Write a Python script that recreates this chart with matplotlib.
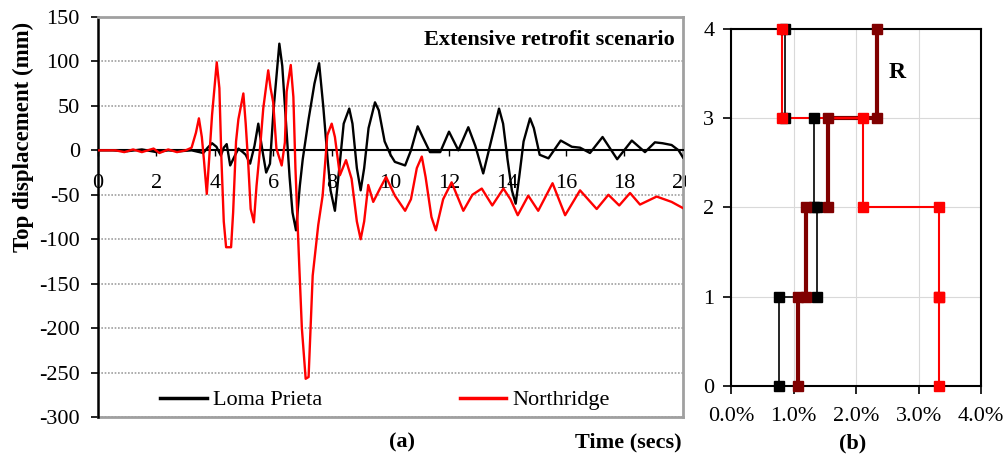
import numpy as np
import matplotlib
matplotlib.use("Agg")
import matplotlib.pyplot as plt
from matplotlib.transforms import Bbox
from matplotlib.ticker import FuncFormatter

plt.rcParams["font.family"] = ["Liberation Serif", "DejaVu Serif"]
plt.rcParams["axes.unicode_minus"] = False

# Top displacement histories (time in s, displacement in mm)
t_loma = [0.0, 0.5, 1.0, 1.5, 2.0, 2.4, 2.8, 3.2, 3.6, 3.75, 3.9, 4.05, 4.2, 4.3,
          4.4, 4.52, 4.65, 4.8, 4.95, 5.05, 5.2, 5.35, 5.48, 5.62, 5.75, 5.88,
          6.0, 6.2, 6.3, 6.45, 6.55, 6.65, 6.77, 6.9, 7.0, 7.2, 7.4, 7.56, 7.7,
          7.85, 7.95, 8.1, 8.25, 8.4, 8.59, 8.7, 8.85, 8.98, 9.1, 9.25, 9.47,
          9.6, 9.8, 10.0, 10.15, 10.5, 10.7, 10.93, 11.1, 11.35, 11.7, 12.0,
          12.32, 12.66, 12.9, 13.17, 13.4, 13.71, 13.85, 14.0, 14.15, 14.28,
          14.4, 14.55, 14.77, 14.9, 15.1, 15.4, 15.82, 16.2, 16.48, 16.82,
          17.25, 17.75, 18.25, 18.7, 19.04, 19.3, 19.61, 19.85, 20.0]
d_loma = [0, 0, -1, 1, -2, 0, -1, 0, -3, 3, 8, 4, -6, 3,
          7, -17, -8, 2, -2, -5, -15, 5, 30, 0, -25, -15,
          45, 120, 95, 20, -30, -70, -90, -40, -10, 35, 75, 98, 50,
          -10, -45, -68, -20, 30, 47, 30, -20, -45, -20, 25, 54,
          45, 10, -5, -13, -17, 0, 27, 15, -2, -2, 21,
          0, 26, 5, -26, 5, 47, 30, -10, -45, -60,
          -30, 10, 36, 25, -5, -9, 11, 4, 3, -3,
          15, -10, 11, -2, 9, 8, 6, 0, -8]

t_north = [0.0, 0.6, 0.9, 1.2, 1.5, 1.9, 2.1, 2.4, 2.7, 3.0, 3.2, 3.35, 3.45,
           3.55, 3.62, 3.72, 3.8, 3.9, 4.06, 4.15, 4.22, 4.3, 4.38, 4.55, 4.62,
           4.72, 4.8, 4.97, 5.05, 5.14, 5.22, 5.33, 5.42, 5.54, 5.65, 5.82, 5.9,
           5.99, 6.1, 6.28, 6.39, 6.45, 6.59, 6.68, 6.75, 6.88, 6.97, 7.1, 7.2,
           7.34, 7.53, 7.68, 7.84, 7.99, 8.1, 8.27, 8.48, 8.67, 8.85, 8.98, 9.1,
           9.24, 9.41, 9.64, 9.85, 10.15, 10.5, 10.7, 10.9, 11.07, 11.2, 11.4,
           11.55, 11.8, 12.09, 12.49, 12.8, 13.12, 13.48, 13.86, 14.1, 14.35,
           14.71, 15.05, 15.54, 15.97, 16.48, 17.05, 17.45, 17.82, 18.19, 18.53,
           19.1, 19.61, 20.0]
d_north = [0, 0, -2, 1, -2, 2, -3, 1, -2, 0, 3, 20, 36,
           15, -10, -49, -10, 40, 99, 70, -10, -80, -109, -109, -70,
           10, 35, 64, 30, -17, -66, -81, -40, 2, 47, 90, 70,
           54, 2, -17, 9, 66, 96, 60, -20, -129, -200, -257, -255,
           -141, -84, -51, 17, 30, 15, -28, -11, -32, -80, -100, -80,
           -39, -58, -43, -30, -51, -68, -55, -20, -7, -30, -75,
           -90, -55, -36, -68, -50, -43, -62, -43, -55, -73,
           -51, -68, -37, -73, -45, -66, -50, -62, -48, -61,
           -52, -58, -65]

# Inter-storey drift (%) for storeys 1-4
storeys = [0, 1, 2, 3, 4]
drift_lp = [0.76, 1.38, 1.33, 0.87]
drift_nr = [3.32, 3.32, 2.11, 0.81]
drift_r = [1.07, 1.20, 1.55, 2.33]

grey = "#A0A0A0"

fig = plt.figure(figsize=(10.05, 4.57), dpi=100)

# (a) time history
ax = fig.add_axes([0.0975, 0.0875, 0.5821, 0.8753])
ax.plot(t_loma, d_loma, color="black", lw=1.7, label="Loma Prieta", zorder=3)
ax.plot(t_north, d_north, color="red", lw=1.7, label="Northridge", zorder=3)
ax.set_xlim(0, 20)
ax.set_ylim(-300, 150)
ax.set_xticks(np.arange(0, 21, 2))
ax.set_yticks(np.arange(-300, 151, 50))
ax.yaxis.grid(True, color=grey, ls=(0, (1, 1)), lw=1.2)
ax.set_axisbelow(True)

ax.spines["bottom"].set_position(("data", 0))
ax.spines["bottom"].set_linewidth(1.5)
ax.spines["left"].set_linewidth(1.8)
for side in ("top", "right"):
    ax.spines[side].set_color(grey)
    ax.spines[side].set_linewidth(2)
ax.plot([0, 1], [0, 0], transform=ax.transAxes, color=grey, lw=2, clip_on=False)

ax.tick_params(axis="x", direction="out", length=4, width=1, pad=13, labelsize=16)
ax.tick_params(axis="y", direction="out", length=5, width=1.2, pad=8, labelsize=16)
for lbl in ax.get_xticklabels():
    lbl.set_clip_on(True)
    lbl.set_clip_box(Bbox.from_extents(0, 0, 686, 457))

ax.set_ylabel("Top displacement (mm)", fontweight="bold", fontsize=16.5)
ax.yaxis.set_label_coords(-0.11, 0.7)

ax.text(0.986, 0.9425, "Extensive retrofit scenario", transform=ax.transAxes,
        ha="right", va="center", fontweight="bold", fontsize=16)
ax.text(0.998, -0.0625, "Time (secs)", transform=ax.transAxes,
        ha="right", va="center", fontweight="bold", fontsize=16)
ax.text(0.52, -0.0625, "(a)", transform=ax.transAxes,
        ha="center", va="center", fontweight="bold", fontsize=16)

leg = ax.legend(ncol=2, loc="center", bbox_to_anchor=(0.4904, 0.0425),
                frameon=False, fontsize=16, handlelength=2.1,
                handletextpad=0.25, columnspacing=6.2, borderpad=0)
for h in leg.get_lines():
    h.set_linewidth(2.5)

# (b) drift profile
ax2 = fig.add_axes([0.7274, 0.1554, 0.2488, 0.7812])
series = [(drift_lp, "black", 1.2), (drift_r, "#800000", 3.0), (drift_nr, "red", 1.5)]
steps = []
for drift, color, lw in series:
    xs = np.repeat(drift, 2)
    ys = np.repeat(storeys, 2)[1:-1]
    steps.append((xs, ys, color))
    ax2.plot(xs, ys, color=color, lw=lw, zorder=2, clip_on=False)
for xs, ys, color in steps:
    ax2.plot(xs, ys, ls="none", marker="s", ms=7.5, color=color,
             zorder=3, clip_on=False)

ax2.set_xlim(0, 4)
ax2.set_ylim(0, 4)
ax2.set_xticks(np.arange(0, 5, 1))
ax2.set_yticks(np.arange(0, 5, 1))
ax2.xaxis.set_major_formatter(FuncFormatter(lambda v, _: f"{v:.1f}%"))
ax2.grid(True, color="#D9D9D9", lw=0.8)
ax2.set_axisbelow(True)
for side in ax2.spines.values():
    side.set_linewidth(1.5)
ax2.tick_params(axis="both", direction="out", length=6, width=1.2, labelsize=16)
ax2.tick_params(axis="x", pad=9)
ax2.tick_params(axis="y", pad=6)
ax2.text(0.664, 0.877, "R", transform=ax2.transAxes, ha="center", va="center",
         fontweight="bold", fontsize=17)
ax2.text(0.488, -0.162, "(b)", transform=ax2.transAxes, ha="center", va="center",
         fontweight="bold", fontsize=16)

fig.savefig("out.png", dpi=100)
